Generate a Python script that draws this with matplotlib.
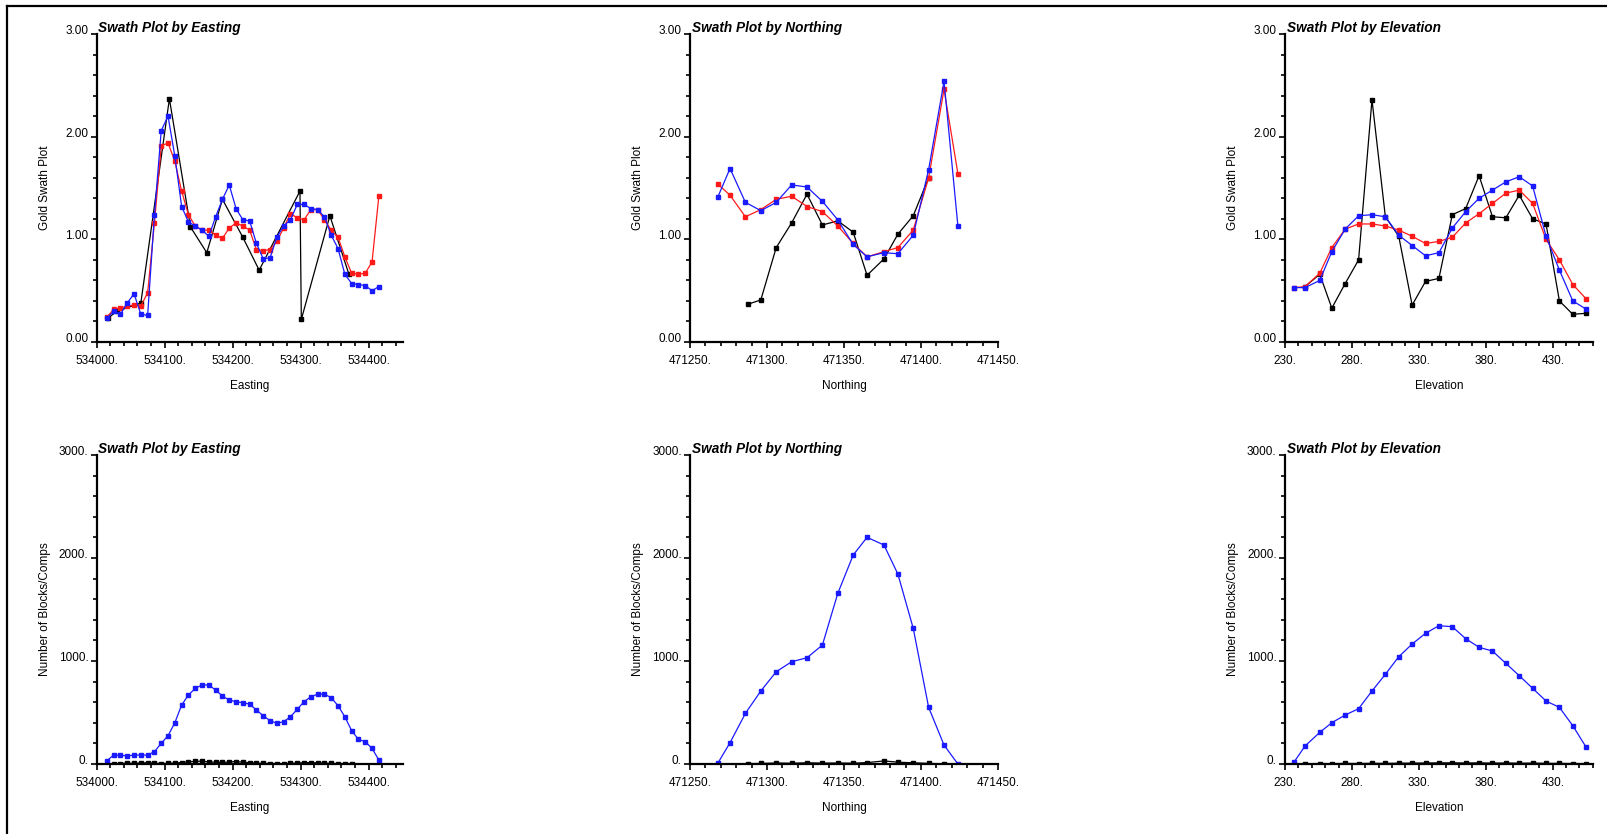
import matplotlib
matplotlib.use('Agg')
import matplotlib.pyplot as plt
from matplotlib.lines import Line2D
from matplotlib.ticker import MultipleLocator, FixedLocator

plt.rcParams['font.family'] = ['Liberation Sans', 'DejaVu Sans']

# ---------------- Easting ----------------
east_x = [534015, 534025, 534035, 534045, 534055, 534065, 534075, 534085, 534095, 534105,
          534115, 534125, 534135, 534145, 534155, 534165, 534175, 534185, 534195, 534205,
          534215, 534225, 534235, 534245, 534255, 534265, 534275, 534285, 534295, 534305,
          534315, 534325, 534335, 534345, 534355, 534365, 534375, 534385, 534395, 534405,
          534415]
east_blue = [0.23, 0.30, 0.27, 0.38, 0.47, 0.27, 0.26, 1.24, 2.06, 2.20,
             1.81, 1.32, 1.17, 1.13, 1.09, 1.03, 1.22, 1.39, 1.53, 1.30,
             1.19, 1.18, 0.96, 0.81, 0.82, 1.02, 1.13, 1.19, 1.34, 1.34,
             1.30, 1.29, 1.22, 1.04, 0.91, 0.66, 0.57, 0.56, 0.55, 0.50,
             0.54]
east_red = [0.24, 0.32, 0.33, 0.35, 0.36, 0.35, 0.48, 1.16, 1.91, 1.94,
            1.76, 1.47, 1.24, 1.13, 1.09, 1.09, 1.04, 1.01, 1.11, 1.16,
            1.13, 1.09, 0.90, 0.89, 0.90, 0.98, 1.11, 1.25, 1.21, 1.19,
            1.29, 1.29, 1.19, 1.09, 1.02, 0.83, 0.67, 0.66, 0.67, 0.78,
            1.42]
east_comp_x = [534016, 534030, 534065, 534107, 534138, 534162, 534185, 534215, 534239,
               534299, 534301, 534343, 534371]
east_black = [0.23, 0.30, 0.38, 2.37, 1.12, 0.87, 1.39, 1.02, 0.70, 1.47, 0.22, 1.23, 0.66]
east_count_blue = [32, 87, 87, 78, 87, 87, 87, 120, 201, 275,
                   401, 573, 670, 735, 767, 767, 718, 660, 621, 605,
                   595, 582, 524, 469, 421, 395, 411, 459, 531, 605,
                   653, 679, 679, 644, 566, 459, 324, 239, 217, 152,
                   39]
east_count_black_x = [534025, 534035, 534045, 534055, 534065, 534075, 534085, 534095, 534105,
                      534115, 534125, 534135, 534145, 534155, 534165, 534175, 534185, 534195,
                      534205, 534215, 534225, 534235, 534245, 534255, 534265, 534275, 534285,
                      534295, 534305, 534315, 534325, 534335, 534345, 534355, 534365, 534375]
east_count_black = [3, 5, 8, 6, 10, 12, 8, 4, 6, 10, 14, 22, 25, 28, 20, 18, 15, 20,
                    24, 18, 12, 8, 6, 5, 4, 3, 6, 10, 12, 14, 10, 8, 6, 4, 2, 1]

# ---------------- Northing ----------------
north_x = [471268, 471276, 471286, 471296, 471306, 471316, 471326, 471336, 471346,
           471356, 471365, 471376, 471385, 471395, 471405, 471415, 471424]
north_blue = [1.41, 1.69, 1.36, 1.28, 1.36, 1.53, 1.51, 1.37, 1.19,
              0.95, 0.83, 0.87, 0.86, 1.04, 1.68, 2.54, 1.13]
north_red = [1.54, 1.43, 1.22, 1.29, 1.39, 1.42, 1.32, 1.27, 1.13,
             0.96, 0.83, 0.88, 0.92, 1.09, 1.60, 2.46, 1.64]
north_comp_x = [471288, 471296, 471306, 471316, 471326, 471336, 471346, 471356, 471365,
                471376, 471385, 471395, 471405]
north_black = [0.37, 0.41, 0.92, 1.16, 1.44, 1.14, 1.18, 1.07, 0.65, 0.81, 1.05, 1.23, 1.60]
north_count_blue = [6, 207, 492, 709, 896, 993, 1032, 1155, 1657,
                    2029, 2201, 2126, 1845, 1317, 550, 184, 0]
north_count_black_x = [471288, 471296, 471306, 471316, 471326, 471336, 471346, 471356,
                       471365, 471376, 471385, 471395, 471405, 471415]
north_count_black = [4, 6, 10, 8, 12, 9, 10, 8, 14, 30, 18, 12, 6, 2]

# ---------------- Elevation ----------------
elev_x = [237, 245, 256, 265, 275, 285, 295, 305, 315, 325, 335, 345,
          355, 365, 375, 385, 395, 405, 415, 425, 435, 445, 455]
elev_blue = [0.53, 0.53, 0.60, 0.88, 1.10, 1.23, 1.24, 1.22, 1.04, 0.94, 0.84, 0.87,
             1.11, 1.27, 1.40, 1.48, 1.56, 1.61, 1.52, 1.03, 0.70, 0.40, 0.32]
elev_red = [0.53, 0.54, 0.67, 0.92, 1.10, 1.15, 1.15, 1.13, 1.09, 1.03, 0.96, 0.98,
            1.02, 1.16, 1.25, 1.35, 1.45, 1.48, 1.35, 1.00, 0.80, 0.56, 0.42]
elev_comp_x = [245, 256, 265, 275, 285, 295, 305, 315, 325, 335, 345,
               355, 365, 375, 385, 395, 405, 415, 425, 435, 445, 455]
elev_black = [0.54, 0.66, 0.33, 0.57, 0.80, 2.36, 1.22, 1.03, 0.36, 0.59, 0.62,
              1.24, 1.30, 1.62, 1.22, 1.21, 1.43, 1.20, 1.15, 0.40, 0.27, 0.28]
elev_count_blue = [23, 175, 307, 401, 476, 537, 709, 871, 1042, 1165, 1269, 1343,
                   1333, 1217, 1133, 1097, 977, 858, 735, 612, 550, 372, 162]
elev_count_black = [3, 5, 4, 6, 5, 7, 6, 8, 9, 10, 11, 12,
                    10, 11, 9, 10, 8, 9, 7, 6, 5, 4]

east_ticks = [534000, 534100, 534200, 534300, 534400]
east_labels = ['534000.', '534100.', '534200.', '534300.', '534400.']
north_ticks = [471250, 471300, 471350, 471400, 471450]
north_labels = ['471250.', '471300.', '471350.', '471400.', '471450.']
elev_ticks = [230, 280, 330, 380, 430]
elev_labels = ['230.', '280.', '330.', '380.', '430.']
grade_ticks = [0, 1, 2, 3]
grade_labels = ['0.00', '1.00', '2.00', '3.00']
count_ticks = [0, 1000, 2000, 3000]
count_labels = ['0.', '1000.', '2000.', '3000.']

BLUE = '#1a1aff'
RED = '#ff1a1a'

fig = plt.figure(figsize=(16.08, 8.34), dpi=100)

cols = [0.0601, 0.4291, 0.7991]
widths = [0.1903, 0.1915, 0.1915]
rows = [0.5899, 0.0839]
heights = [0.3693, 0.3705]


def style(ax, xlim, xt, xl, xminor, ylim, yt, yl, yminor, title, xlabel, ylabel):
    ax.set_xlim(*xlim)
    ax.set_ylim(*ylim)
    for s in ['top', 'right']:
        ax.spines[s].set_visible(False)
    for s in ['left', 'bottom']:
        ax.spines[s].set_linewidth(1.6)
    ax.xaxis.set_major_locator(FixedLocator(xt))
    ax.set_xticklabels(xl)
    ax.xaxis.set_minor_locator(MultipleLocator(xminor))
    ax.yaxis.set_major_locator(FixedLocator(yt))
    ax.set_yticklabels(yl)
    ax.yaxis.set_minor_locator(MultipleLocator(yminor))
    ax.tick_params(which='both', direction='out', width=1.2, labelsize=8.5, colors='black')
    ax.tick_params(which='major', length=4)
    ax.tick_params(which='minor', length=3)
    ax.tick_params(axis='x', pad=5)
    ax.tick_params(axis='y', pad=2)
    plt.setp(ax.get_yticklabels(), va='baseline')
    ax.set_xlabel(xlabel, fontsize=8.5)
    ax.set_ylabel(ylabel, fontsize=8.5)
    ax.xaxis.set_label_coords(0.5, -0.122)
    ax.yaxis.set_label_coords(-0.148, 0.5)
    ax.text(0.006, 1.006, title, transform=ax.transAxes, fontsize=9.8,
            fontweight='bold', fontstyle='italic', va='baseline', ha='left')
    ax.patch.set_alpha(0)


panels = [
    (east_x, east_blue, east_red, east_comp_x, east_black,
     east_count_blue, east_count_black_x, east_count_black,
     (534000, 534450), east_ticks, east_labels, 20, 'Easting'),
    (north_x, north_blue, north_red, north_comp_x, north_black,
     north_count_blue, north_count_black_x, north_count_black,
     (471250, 471450), north_ticks, north_labels, 10, 'Northing'),
    (elev_x, elev_blue, elev_red, elev_comp_x, elev_black,
     elev_count_blue, elev_comp_x, elev_count_black,
     (230, 460), elev_ticks, elev_labels, 10, 'Elevation'),
]

mk = dict(marker='s', markersize=2.4, linewidth=0.9)

for i, p in enumerate(panels):
    (x, blue, red, cx, black, cblue, cbx, cblack, xlim, xt, xl, xminor, name) = p

    ax = fig.add_axes([cols[i], rows[0], widths[i], heights[0]])
    ax.plot(cx, black, color='black', **mk)
    ax.plot(x, red, color=RED, **mk)
    ax.plot(x, blue, color=BLUE, **mk)
    style(ax, xlim, xt, xl, xminor, (0, 3), grade_ticks, grade_labels, 0.2,
          'Swath Plot by ' + name, name, 'Gold Swath Plot')

    ax2 = fig.add_axes([cols[i], rows[1], widths[i], heights[1]])
    ax2.plot(cbx, cblack, color='black', **mk)
    ax2.plot(x, cblue, color=BLUE, **mk)
    style(ax2, xlim, xt, xl, xminor, (0, 3000), count_ticks, count_labels, 200,
          'Swath Plot by ' + name, name, 'Number of Blocks/Comps')

# frame lines at top and left of the page
x0 = 7.5 / 1608
ytop = 1 - 6.0 / 834
fig.add_artist(Line2D([x0, 1], [ytop, ytop], transform=fig.transFigure, color='black', lw=1.6))
fig.add_artist(Line2D([x0, x0], [0, ytop], transform=fig.transFigure, color='black', lw=1.6))

fig.savefig('out.png', dpi=100, facecolor='white')
